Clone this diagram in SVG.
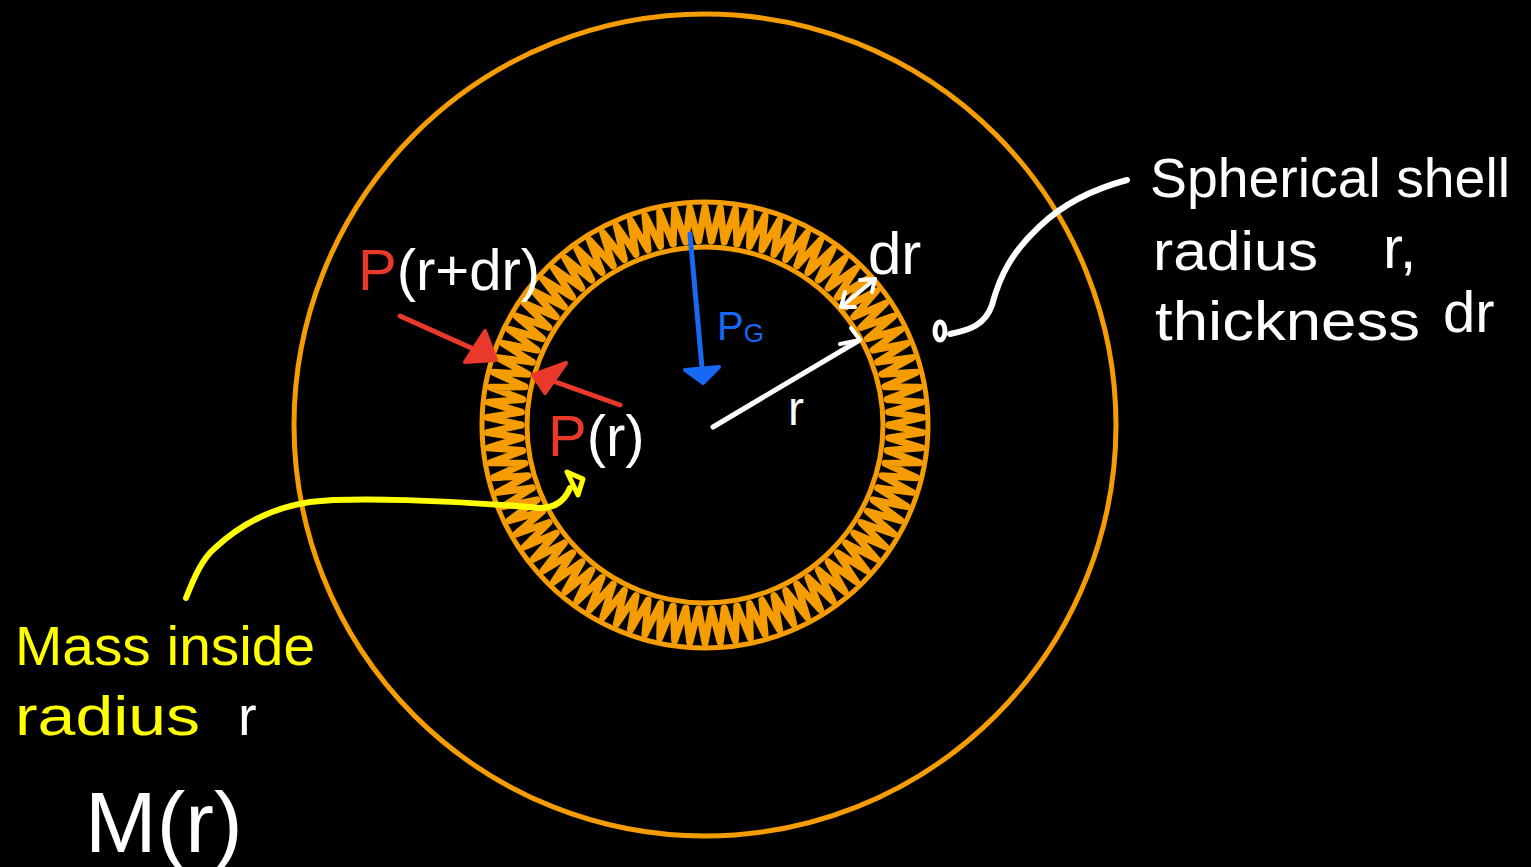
<svg xmlns="http://www.w3.org/2000/svg" xmlns:xlink="http://www.w3.org/1999/xlink" width="1531" height="867" viewBox="0 0 1531 867">
<style>
.ring{fill:none;stroke:#f59d00;stroke-width:5}
.zig{fill:none;stroke:#f59d00;stroke-width:7;stroke-linejoin:round;stroke-linecap:round}
.hand{fill:none;stroke-linecap:round;stroke-linejoin:round}
.t{font-family:"Liberation Sans","DejaVu Sans",sans-serif}
.w{fill:#ffffff}
.red{fill:#e8392a}
.yel{fill:#ffff00}
.blu{fill:#1668f5}
</style>
<defs>
<polyline id="seg" points="-31.95,-181.2 -30.34,-215.88 -19.23,-182.99 -15.21,-217.47 -6.42,-183.89 0,-218 6.42,-183.89 15.21,-217.47 19.23,-182.99 30.34,-215.88 31.95,-181.2" class="zig"/>
</defs>
<rect x="0" y="0" width="1531" height="867" fill="#000000"/>

<g id="outer-sphere">
<circle cx="705" cy="425" r="411" class="ring"/>
</g>

<g id="shell">
<g transform="translate(705,425)">
<use xlink:href="#seg" transform="rotate(0)"/>
<use xlink:href="#seg" transform="rotate(20)"/>
<use xlink:href="#seg" transform="rotate(40)"/>
<use xlink:href="#seg" transform="rotate(60)"/>
<use xlink:href="#seg" transform="rotate(80)"/>
<use xlink:href="#seg" transform="rotate(100)"/>
<use xlink:href="#seg" transform="rotate(120)"/>
<use xlink:href="#seg" transform="rotate(140)"/>
<use xlink:href="#seg" transform="rotate(160)"/>
<use xlink:href="#seg" transform="rotate(180)"/>
<use xlink:href="#seg" transform="rotate(200)"/>
<use xlink:href="#seg" transform="rotate(220)"/>
<use xlink:href="#seg" transform="rotate(240)"/>
<use xlink:href="#seg" transform="rotate(260)"/>
<use xlink:href="#seg" transform="rotate(280)"/>
<use xlink:href="#seg" transform="rotate(300)"/>
<use xlink:href="#seg" transform="rotate(320)"/>
<use xlink:href="#seg" transform="rotate(340)"/>
</g>
<circle cx="705" cy="425" r="223" class="ring"/>
<circle cx="705" cy="425" r="178" class="ring"/>
</g>

<g id="connectors">
<!-- P(r+dr) arrow -->
<line x1="400" y1="316" x2="478" y2="351" class="hand" stroke="#e8392a" stroke-width="5"/>
<polygon points="496,360 465,362 485,331" fill="#e8392a" stroke="#e8392a" stroke-width="4" stroke-linejoin="round"/>
<!-- P(r) arrow -->
<line x1="620" y1="405" x2="550" y2="380" class="hand" stroke="#e8392a" stroke-width="5"/>
<polygon points="533,375 566,363 545,393" fill="#e8392a" stroke="#e8392a" stroke-width="4" stroke-linejoin="round"/>
<!-- gravity arrow -->
<line x1="690" y1="234" x2="702" y2="368" class="hand" stroke="#1668f5" stroke-width="5"/>
<polygon points="685,370 719,367 703,383" fill="#1668f5" stroke="#1668f5" stroke-width="4" stroke-linejoin="round"/>
<!-- radius r arrow -->
<line x1="713" y1="427" x2="858" y2="341" class="hand" stroke="#ffffff" stroke-width="5"/>
<polyline points="840,344 860,340 851,328" class="hand" stroke="#ffffff" stroke-width="4"/>
<!-- dr double arrow -->
<line x1="841" y1="307" x2="875" y2="279" class="hand" stroke="#ffffff" stroke-width="4"/>
<polyline points="860,280 875,279 872,292" class="hand" stroke="#ffffff" stroke-width="4"/>
<polyline points="845,292 841,307 855,307" class="hand" stroke="#ffffff" stroke-width="4"/>
<!-- shell label pointer -->
<path d="M1127,180 C1090,190 1062,205 1040,226 C1012,252 1000,275 992,305 C985,325 970,330 950,334" class="hand" stroke="#ffffff" stroke-width="6"/>
<ellipse cx="940" cy="331" rx="5" ry="9" fill="none" stroke="#ffffff" stroke-width="5"/>
<!-- mass pointer -->
<path d="M186,598 C195,575 203,558 215,548 C240,525 270,508 310,502 C350,497 450,500 540,508 C555,508 565,500 570,488" class="hand" stroke="#ffff00" stroke-width="6"/>
<polygon points="567,472 583,479 578,495" fill="none" stroke="#ffff00" stroke-width="5" stroke-linejoin="round"/>
</g>

<g id="label-p-rdr">
<text x="358" y="290" class="t" font-size="58"><tspan class="red">P</tspan><tspan class="w">(r+dr)</tspan></text>
</g>
<g id="label-p-r">
<text x="548" y="456" class="t" font-size="58"><tspan class="red">P</tspan><tspan class="w">(r)</tspan></text>
</g>
<g id="label-pg">
<text x="717" y="340" class="t blu" font-size="40">P<tspan font-size="26" dy="2">G</tspan></text>
</g>
<g id="label-r">
<text x="788" y="425" class="t w" font-size="48">r</text>
</g>
<g id="label-dr">
<text x="868" y="274" class="t w" font-size="60">dr</text>
</g>
<g id="label-shell">
<text x="1150" y="197" class="t w" font-size="55" textLength="360" lengthAdjust="spacingAndGlyphs">Spherical shell</text>
<text x="1153" y="270" class="t w" font-size="55" textLength="165" lengthAdjust="spacingAndGlyphs">radius</text>
<text x="1383" y="268" class="t w" font-size="60">r,</text>
<text x="1155" y="340" class="t w" font-size="55" textLength="265" lengthAdjust="spacingAndGlyphs">thickness</text>
<text x="1443" y="332" class="t w" font-size="58">dr</text>
</g>
<g id="label-mass">
<text x="15" y="665" class="t yel" font-size="56" textLength="300" lengthAdjust="spacingAndGlyphs">Mass inside</text>
<text x="15" y="735" class="t yel" font-size="56" textLength="185" lengthAdjust="spacingAndGlyphs">radius</text>
<text x="238" y="735" class="t w" font-size="56">r</text>
<text x="85" y="852" class="t w" font-size="86">M(r)</text>
</g>
</svg>
